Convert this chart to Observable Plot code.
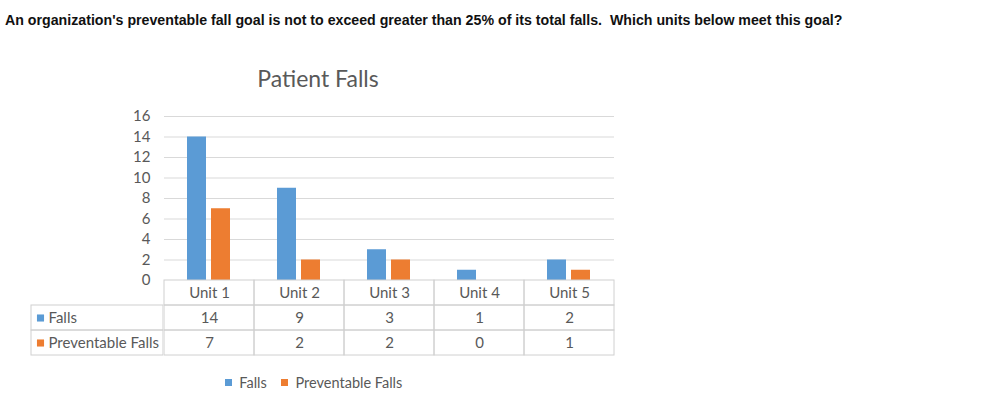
<!DOCTYPE html>
<html>
<head>
<meta charset="utf-8">
<script src="https://cdn.jsdelivr.net/npm/d3@7"></script>
<script src="https://cdn.jsdelivr.net/npm/@observablehq/plot@0.6"></script>
<style>
  html, body { margin: 0; padding: 0; background: #fff; }
  #wrap { position: relative; width: 988px; height: 393px; overflow: hidden; background: #fff; }
  #question { position: absolute; left: 5px; top: 12px; font: bold 14.2px "Liberation Sans", Arial, sans-serif; color: #111; white-space: pre; }
  #ctitle { position: absolute; left: 168px; width: 300px; top: 64px; text-align: center; font: 23px Lato, sans-serif; color: #595959; }
  .layer { position: absolute; left: 0; top: 0; }
  #legend { position: absolute; left: 225px; top: 366px; }
  #legend div { font: 14.5px Lato, sans-serif !important; color: #595959; }
</style>
</head>
<body>
<div id="wrap">
  <div id="question"></div>
  <div id="ctitle"></div>
</div>
<script>
const questionText = "An organization's preventable fall goal is not to exceed greater than 25% of its total falls.  Which units below meet this goal?";
const chartTitle = "Patient Falls";
const units = ["Unit 1", "Unit 2", "Unit 3", "Unit 4", "Unit 5"];
const series = ["Falls", "Preventable Falls"];
const falls = [14, 9, 3, 1, 2];
const preventable = [7, 2, 2, 0, 1];
const yTicks = [0, 2, 4, 6, 8, 10, 12, 14, 16];
const colors = ["#5B9BD5", "#ED7D31"];

const rows = [];
units.forEach((u, i) => {
  rows.push({unit: u, series: "Falls", value: falls[i]});
  rows.push({unit: u, series: "Preventable Falls", value: preventable[i]});
});

document.getElementById("question").textContent = questionText;
document.getElementById("ctitle").textContent = chartTitle;
const wrap = document.getElementById("wrap");
const grey = "#595959";
const font = "Lato, sans-serif";
const fs = 15;

// Bar chart
const chart = Plot.plot({
  width: 988, height: 393,
  marginTop: 116, marginBottom: 113, marginLeft: 163, marginRight: 373,
  style: {fontFamily: font, fontSize: fs + "px", color: grey, background: "transparent"},
  fx: {domain: units, padding: 0, axis: null, label: null},
  x: {domain: series, paddingInner: 0.2, paddingOuter: 0.908, axis: null},
  y: {domain: [0, 16], axis: null},
  color: {domain: series, range: colors},
  marks: [
    Plot.gridY(yTicks.filter(d => d > 0), {stroke: "#d9d9d9", strokeOpacity: 1}),
    Plot.axisY(yTicks, {tickSize: 0, tickPadding: 14, fill: grey, fontSize: fs, label: null}),
    Plot.barY(rows, {fx: "unit", x: "series", y: "value", fill: "series"})
  ]
});
chart.classList.add("layer");
wrap.appendChild(chart);

// Data table (value columns)
const tableRows = ["head", ...series];
const cells = [];
units.forEach((u, i) => {
  cells.push({unit: u, row: "head", text: u});
  cells.push({unit: u, row: "Falls", text: String(falls[i])});
  cells.push({unit: u, row: "Preventable Falls", text: String(preventable[i])});
});
const table = Plot.plot({
  width: 988, height: 393,
  marginTop: 280, marginBottom: 38, marginLeft: 163, marginRight: 373,
  style: {fontFamily: font, fontSize: fs + "px", color: grey, background: "transparent"},
  x: {domain: units, padding: 0, axis: null},
  y: {domain: tableRows, padding: 0, axis: null},
  marks: [
    Plot.cell(cells, {x: "unit", y: "row", fill: "none", stroke: "#d0d0d0", inset: 0}),
    Plot.text(cells, {x: "unit", y: "row", text: "text", fill: grey, fontSize: fs})
  ]
});
table.classList.add("layer");
wrap.appendChild(table);

// Data table (row label column)
const labelRows = series.map((s, i) => ({row: s, color: colors[i]}));
const labels = Plot.plot({
  width: 163, height: 393,
  marginTop: 280, marginBottom: 38, marginLeft: 31, marginRight: 0,
  style: {fontFamily: font, fontSize: fs + "px", color: grey, background: "transparent"},
  y: {domain: tableRows, padding: 0, axis: null},
  marks: [
    Plot.cell(labelRows, {y: "row", fill: "none", stroke: "#d0d0d0", inset: 0}),
    Plot.dot(labelRows, {y: "row", frameAnchor: "left", dx: 9, symbol: "square", r: 4, fill: "color", stroke: null}),
    Plot.text(labelRows, {y: "row", text: "row", frameAnchor: "left", dx: 17, textAnchor: "start", fill: grey, fontSize: fs})
  ]
});
labels.classList.add("layer");
wrap.appendChild(labels);

// Legend
const leg = Plot.legend({color: {domain: series, range: colors}, legend: "swatches", swatchSize: 7, style: {fontFamily: font, fontSize: "14.5px", color: grey}});
const legWrap = document.createElement("div");
legWrap.id = "legend";
legWrap.appendChild(leg);
wrap.appendChild(legWrap);
</script>
</body>
</html>
